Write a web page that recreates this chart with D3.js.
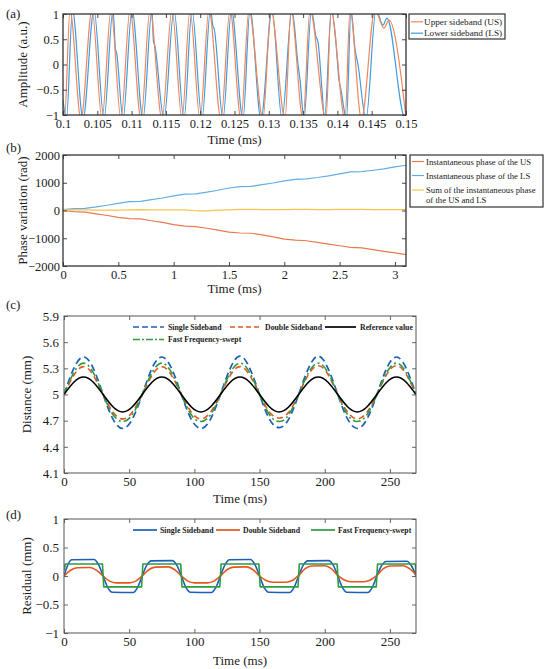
<!DOCTYPE html>
<html><head><meta charset="utf-8">
<script src="https://cdn.jsdelivr.net/npm/d3@7"></script>
<style>
body{margin:0;background:#fff}
svg{display:block}
text{font-family:"Liberation Serif","Times New Roman",serif;fill:#1a1a1a}
</style>
</head><body>
<svg id="chart" width="550" height="669"></svg>
<script>
// ---------------- DATA ----------------
// (a) sideband signals: extrema (time ms, amplitude)
const aUS_T = [0.10000,0.10022,0.10102,0.10262,0.10423,0.10569,0.10700,0.10845,0.10977,0.11137,0.11268,0.11443,0.11589,0.11735,0.11851,0.11997,0.12128,0.12303,0.12434,0.12595,0.12711,0.12915,0.13032,0.13236,0.13324,0.13499,0.13601,0.13834,0.13907,0.14111,0.14184,0.14351,0.14548,0.14679,0.14752,0.15000];
const aUS_V = [-0.90,-1.08,1.08,-1.08,1.08,-1.08,1.08,-1.08,1.08,-1.08,1.08,-1.08,1.08,-1.08,1.08,-1.08,1.08,-1.08,1.08,-1.08,1.08,-1.08,1.08,-1.08,1.08,-1.08,1.08,-1.08,1.08,-1.08,1.08,-1.08,1.08,0.72,0.88,-1.05];
const aLS_T = [0.10000,0.10051,0.10138,0.10292,0.10452,0.10598,0.10729,0.10765,0.10780,0.10875,0.11006,0.11166,0.11297,0.11319,0.11334,0.11472,0.11618,0.11764,0.11880,0.12026,0.12150,0.12187,0.12201,0.12332,0.12456,0.12624,0.12726,0.12886,0.13047,0.13192,0.13338,0.13426,0.13455,0.13513,0.13622,0.13688,0.13717,0.13775,0.13812,0.13914,0.13980,0.14023,0.14052,0.14133,0.14198,0.14257,0.14300,0.14417,0.14563,0.14665,0.14723,0.14985,0.15000];
const aLS_V = [-0.70,-1.08,1.08,-1.08,1.08,-1.08,1.08,0.30,0.24,-1.08,1.08,-1.08,1.08,0.45,0.40,-1.08,1.08,-1.08,1.08,-1.08,1.08,0.75,0.72,-1.08,1.08,-1.08,1.08,-1.08,1.08,-1.08,1.08,0.00,-0.30,-1.08,1.08,0.55,0.45,-0.50,-1.08,1.08,0.40,-0.30,-0.50,-1.08,1.08,0.30,0.00,-1.08,1.08,0.78,0.92,-1.05,-0.95];
const aXTicks = [0.1,0.105,0.11,0.115,0.12,0.125,0.13,0.135,0.14,0.145,0.15];
const aXLabels = ["0.1","0.105","0.11","0.115","0.12","0.125","0.13","0.135","0.14","0.145","0.15"];
const aYTicks = [-1,-0.5,0,0.5,1];
const aYLabels = ["\u22121","\u22120.5","0","0.5","1"];

// (b) phase variation
const bT = [0,0.1,0.2,0.3,0.4,0.5,0.6,0.7,0.8,0.9,1.0,1.1,1.2,1.3,1.4,1.5,1.6,1.7,1.8,1.9,2.0,2.1,2.2,2.3,2.4,2.5,2.6,2.7,2.8,2.9,3.0,3.1];
const bUS = [0,-40,-60,-120,-180,-250,-290,-300,-370,-430,-510,-560,-580,-640,-710,-780,-810,-820,-880,-950,-1030,-1070,-1090,-1150,-1210,-1270,-1330,-1350,-1410,-1470,-1530,-1590];
const bLS = [30,70,80,130,190,260,320,330,390,450,530,590,600,660,730,810,860,870,930,990,1070,1120,1140,1190,1250,1320,1390,1400,1450,1500,1570,1630];
const bSum = [20,20,20,15,10,10,25,30,20,20,20,25,-10,-15,10,25,40,40,35,30,30,40,40,35,35,40,45,40,35,30,30,35];
const bXTicks = [0,0.5,1,1.5,2,2.5,3];
const bXLabels = ["0","0.5","1","1.5","2","2.5","3"];
const bYTicks = [-2000,-1000,0,1000,2000];
const bYLabels = ["\u22122000","\u22121000","0","1000","2000"];

// (c) distance
const cT = [0,7.5,15,22.5,30,37.5,45,52.5,60,67.5,75,82.5,90,97.5,105,112.5,120,127.5,135,142.5,150,157.5,165,172.5,180,187.5,195,202.5,210,217.5,225,232.5,240,247.5,255,262.5,270];
const cSSB = [5.00,5.30,5.43,5.30,5.00,4.72,4.61,4.72,5.00,5.30,5.43,5.30,5.00,4.72,4.61,4.72,5.00,5.30,5.44,5.30,5.00,4.72,4.62,4.72,5.00,5.30,5.44,5.30,5.00,4.72,4.61,4.72,5.00,5.30,5.43,5.30,5.00];
const cDSB = [5.00,5.22,5.32,5.22,5.00,4.80,4.72,4.80,5.00,5.22,5.32,5.22,5.00,4.80,4.72,4.80,5.00,5.22,5.32,5.22,5.00,4.80,4.73,4.80,5.00,5.23,5.33,5.23,5.00,4.80,4.72,4.80,5.00,5.23,5.33,5.23,5.00];
const cFFS = [5.00,5.25,5.36,5.25,5.00,4.77,4.69,4.77,5.00,5.25,5.36,5.25,5.00,4.77,4.69,4.77,5.00,5.25,5.36,5.25,5.00,4.77,4.69,4.77,5.00,5.25,5.36,5.25,5.00,4.77,4.69,4.77,5.00,5.25,5.36,5.25,5.00];
const cRef = [5.00,5.14,5.20,5.14,5.00,4.86,4.80,4.86,5.00,5.14,5.20,5.14,5.00,4.86,4.80,4.86,5.00,5.14,5.20,5.14,5.00,4.86,4.80,4.86,5.00,5.14,5.20,5.14,5.00,4.86,4.80,4.86,5.00,5.14,5.20,5.14,5.00];
const cXTicks = [0,50,100,150,200,250];
const cYTicks = [4.1,4.4,4.7,5,5.3,5.6,5.9];
const cYLabels = ["4.1","4.4","4.7","5","5.3","5.6","5.9"];

// (d) residuals (time ms, residual mm)
const dSSB = [[0,0],[3,0.2],[6,0.285],[23,0.29],[26.5,0.2],[30,0],[33.5,-0.2],[37,-0.285],[53,-0.29],[56.5,-0.2],[60,0],[63.5,0.19],[67,0.265],[83,0.27],[86.5,0.19],[90,0],[93.5,-0.2],[97,-0.285],[113,-0.29],[116.5,-0.2],[120,0],[123.5,0.2],[127,0.285],[143,0.29],[146.5,0.2],[150,0],[153.5,-0.2],[157,-0.285],[173,-0.29],[176.5,-0.2],[180,0],[183.5,0.19],[187,0.265],[203,0.27],[206.5,0.19],[210,0],[213.5,-0.2],[217,-0.285],[233,-0.29],[236.5,-0.2],[240,0],[243.5,0.18],[247,0.255],[263,0.26],[266.5,0.18],[270,0]];
const dDSB = [[0,0],[5,0.1],[10,0.145],[20,0.15],[25,0.1],[30,0],[35,-0.09],[40,-0.12],[50,-0.12],[55,-0.09],[60,0],[65,0.11],[70,0.155],[80,0.16],[85,0.11],[90,0],[95,-0.09],[100,-0.12],[110,-0.12],[115,-0.09],[120,0],[125,0.11],[130,0.155],[140,0.16],[145,0.11],[150,0],[155,-0.08],[160,-0.11],[170,-0.11],[175,-0.08],[180,0.01],[185,0.13],[190,0.175],[200,0.18],[205,0.13],[210,0.01],[215,-0.07],[220,-0.1],[230,-0.1],[235,-0.07],[240,0.01],[245,0.13],[250,0.175],[260,0.18],[265,0.13],[270,0.02]];
const dFFS = [[0,0.1],[1,0.21],[29.5,0.21],[30.5,-0.19],[59.5,-0.19],[60.5,0.21],[89.5,0.21],[90.5,-0.19],[119.5,-0.19],[120.5,0.21],[149.5,0.21],[150.5,-0.19],[179.5,-0.19],[180.5,0.21],[209.5,0.21],[210.5,-0.19],[239.5,-0.19],[240.5,0.21],[269.5,0.21],[270,0.05]];
const dXTicks = [0,50,100,150,200,250];
const dYTicks = [-1,-0.5,0,0.5,1];
const dYLabels = ["\u22121","\u22120.5","0","0.5","1"];

// ---------------- DRAWING ----------------
const svg = d3.select("#chart");
const zip = (t, v) => t.map((d, i) => [d, v[i]]);

function panel(o) {
  const x = d3.scaleLinear().domain(o.xd).range([o.l, o.r]);
  const y = d3.scaleLinear().domain(o.yd).range([o.b, o.t]);
  const id = "clip_" + o.name;
  svg.append("clipPath").attr("id", id).append("rect")
    .attr("x", o.l).attr("y", o.t).attr("width", o.r - o.l).attr("height", o.b - o.t);
  const g = svg.append("g");
  const plot = g.append("g").attr("clip-path", `url(#${id})`);
  const axG = svg.append("g");
  const style = sel => {
    sel.select(".domain").remove();
    sel.selectAll("line").attr("stroke", o.fc).attr("stroke-width", 0.9);
    sel.selectAll("text").attr("font-size", o.fs).attr("fill", "#1a1a1a")
      .attr("font-family", '"Liberation Serif","Times New Roman",serif');
  };
  axG.append("g").attr("transform", `translate(0,${o.b})`)
    .call(d3.axisBottom(x).tickValues(o.xt).tickFormat((d, i) => o.xl[i]).tickSizeInner(-o.tk).tickSizeOuter(0).tickPadding(o.tpx))
    .call(style);
  axG.append("g").attr("transform", `translate(0,${o.t})`)
    .call(d3.axisTop(x).tickValues(o.xt).tickFormat("").tickSizeInner(-o.tk).tickSizeOuter(0))
    .call(style);
  axG.append("g").attr("transform", `translate(${o.l},0)`)
    .call(d3.axisLeft(y).tickValues(o.yt).tickFormat((d, i) => o.yl[i]).tickSizeInner(-o.tk).tickSizeOuter(0).tickPadding(o.tpy))
    .call(style);
  axG.append("g").attr("transform", `translate(${o.r},0)`)
    .call(d3.axisRight(y).tickValues(o.yt).tickFormat("").tickSizeInner(-o.tk).tickSizeOuter(0))
    .call(style);
  axG.append("rect").attr("x", o.l).attr("y", o.t).attr("width", o.r - o.l).attr("height", o.b - o.t)
    .attr("fill", "none").attr("stroke", o.fc).attr("stroke-width", o.fw);
  // titles
  svg.append("text").attr("x", (o.l + o.r) / 2).attr("y", o.xty).attr("text-anchor", "middle")
    .attr("font-size", o.ts).text(o.xtitle);
  svg.append("text").attr("transform", `translate(${o.ytx},${(o.t + o.b) / 2}) rotate(-90)`)
    .attr("text-anchor", "middle").attr("font-size", o.ts).text(o.ytitle);
  svg.append("text").attr("x", 6).attr("y", o.ply).attr("font-size", 13).text(o.plabel);
  return { x, y, plot, axG };
}

function addLine(p, data, color, w, dash, curve) {
  const line = d3.line().x(d => p.x(d[0])).y(d => p.y(d[1])).curve(curve || d3.curveMonotoneX);
  p.plot.append("path").datum(data).attr("d", line).attr("fill", "none")
    .attr("stroke", color).attr("stroke-width", w)
    .attr("stroke-dasharray", dash || null).attr("stroke-linejoin", "round");
}

// ---- (a)
const colUSa = "#F0865A", colLSa = "#3D9BE0";
const pa = panel({ name: "a", l: 63, r: 406, t: 14, b: 115, xd: [0.1, 0.15], yd: [-1, 1],
  xt: aXTicks, xl: aXLabels, yt: aYTicks, yl: aYLabels, tk: 4, tpx: 4, tpy: 4, fs: 12.5, ts: 13,
  fc: "#333", fw: 1.3, xtitle: "Time (ms)", xty: 144, ytitle: "Amplitude (a.u.)", ytx: 27, plabel: "(a)", ply: 18 });
addLine(pa, zip(aLS_T, aLS_V), colLSa, 1.2);
addLine(pa, zip(aUS_T, aUS_V), colUSa, 1.2);
// legend (a)
{
  const L = svg.append("g");
  L.append("rect").attr("x", 409).attr("y", 14).attr("width", 96).attr("height", 25)
    .attr("fill", "#fff").attr("stroke", "#333").attr("stroke-width", 1.2);
  [["Upper sideband (US)", colUSa, 21.8], ["Lower sideband (LS)", colLSa, 33.2]].forEach(([t, c, yy]) => {
    L.append("line").attr("x1", 411).attr("x2", 423).attr("y1", yy).attr("y2", yy).attr("stroke", c).attr("stroke-width", 1.2);
    L.append("text").attr("x", 424).attr("y", yy + 3.2).attr("font-size", 9.2).text(t);
  });
}

// ---- (b)
const colUSb = "#EA7A50", colLSb = "#62AEE6", colSumb = "#F3C350";
const pb = panel({ name: "b", l: 63, r: 406, t: 155, b: 266, xd: [0, 3.1], yd: [-2000, 2000],
  xt: bXTicks, xl: bXLabels, yt: bYTicks, yl: bYLabels, tk: 4, tpx: 4, tpy: 3, fs: 12.5, ts: 13,
  fc: "#333", fw: 1.3, xtitle: "Time (ms)", xty: 293, ytitle: "Phase variation (rad)", ytx: 27, plabel: "(b)", ply: 152 });
addLine(pb, zip(bT, bUS), colUSb, 1.2, null, d3.curveLinear);
addLine(pb, zip(bT, bLS), colLSb, 1.2, null, d3.curveLinear);
addLine(pb, zip(bT, bSum), colSumb, 1.2, null, d3.curveLinear);
{
  const L = svg.append("g");
  L.append("rect").attr("x", 410).attr("y", 155).attr("width", 133).attr("height", 52)
    .attr("fill", "#fff").attr("stroke", "#333").attr("stroke-width", 1.2);
  [["Instantaneous phase of the US", colUSb, 161.5], ["Instantaneous phase of the LS", colLSb, 175.5], ["Sum of the instantaneous phase", colSumb, 190]].forEach(([t, c, yy]) => {
    L.append("line").attr("x1", 412).attr("x2", 424).attr("y1", yy).attr("y2", yy).attr("stroke", c).attr("stroke-width", 1.2);
    L.append("text").attr("x", 426).attr("y", yy + 3).attr("font-size", 8.7).text(t);
  });
  L.append("text").attr("x", 426).attr("y", 203).attr("font-size", 8.7).text("of the US and LS");
}

// ---- (c)
const colSSB = "#1D5FB8", colDSB = "#E4571F", colFFS = "#2E9B3F";
const pc = panel({ name: "c", l: 64, r: 416, t: 316, b: 473, xd: [0, 270], yd: [4.1, 5.9],
  xt: cXTicks, xl: cXTicks.map(String), yt: cYTicks, yl: cYLabels, tk: 4, tpx: 4, tpy: 5, fs: 13, ts: 13,
  fc: "#555", fw: 1, xtitle: "Time (ms)", xty: 503, ytitle: "Distance (mm)", ytx: 31, plabel: "(c)", ply: 309 });
addLine(pc, zip(cT, cSSB), colSSB, 1.7, "7,4", d3.curveNatural);
addLine(pc, zip(cT, cDSB), colDSB, 1.6, "6,4", d3.curveNatural);
addLine(pc, zip(cT, cFFS), colFFS, 1.6, "8,3,2,3", d3.curveNatural);
addLine(pc, zip(cT, cRef), "#000", 1.6, null, d3.curveNatural);
{
  const L = svg.append("g");
  const items = [["Single Sideband", colSSB, "6,3", 133, 327], ["Double Sideband", colDSB, "5,3", 230, 327],
    ["Reference value", "#000", null, 325, 327], ["Fast Frequency-swept", colFFS, "7,2,2,2", 133, 339.5]];
  items.forEach(([t, c, da, x0, yy]) => {
    L.append("line").attr("x1", x0).attr("x2", x0 + 31).attr("y1", yy).attr("y2", yy)
      .attr("stroke", c).attr("stroke-width", 1.7).attr("stroke-dasharray", da);
    L.append("text").attr("x", x0 + 35).attr("y", yy + 2.8).attr("font-size", 7.8).attr("font-weight", "bold").text(t);
  });
}

// ---- (d)
const pd = panel({ name: "d", l: 64, r: 416, t: 519, b: 633, xd: [0, 270], yd: [-1, 1],
  xt: dXTicks, xl: dXTicks.map(String), yt: dYTicks, yl: dYLabels, tk: 4, tpx: 4, tpy: 5, fs: 13, ts: 13,
  fc: "#555", fw: 1, xtitle: "Time (ms)", xty: 665, ytitle: "Residual (mm)", ytx: 31, plabel: "(d)", ply: 519 });
addLine(pd, dSSB, colSSB, 1.6);
addLine(pd, dDSB, colDSB, 1.6);
addLine(pd, dFFS, colFFS, 1.6, null, d3.curveLinear);
{
  const L = svg.append("g");
  [["Single Sideband", colSSB, 133], ["Double Sideband", colDSB, 216], ["Fast Frequency-swept", colFFS, 311]].forEach(([t, c, x0]) => {
    L.append("line").attr("x1", x0).attr("x2", x0 + 24).attr("y1", 530).attr("y2", 530).attr("stroke", c).attr("stroke-width", 1.7);
    L.append("text").attr("x", x0 + 27).attr("y", 532.8).attr("font-size", 7.8).attr("font-weight", "bold").text(t);
  });
}
</script>
</body></html>
